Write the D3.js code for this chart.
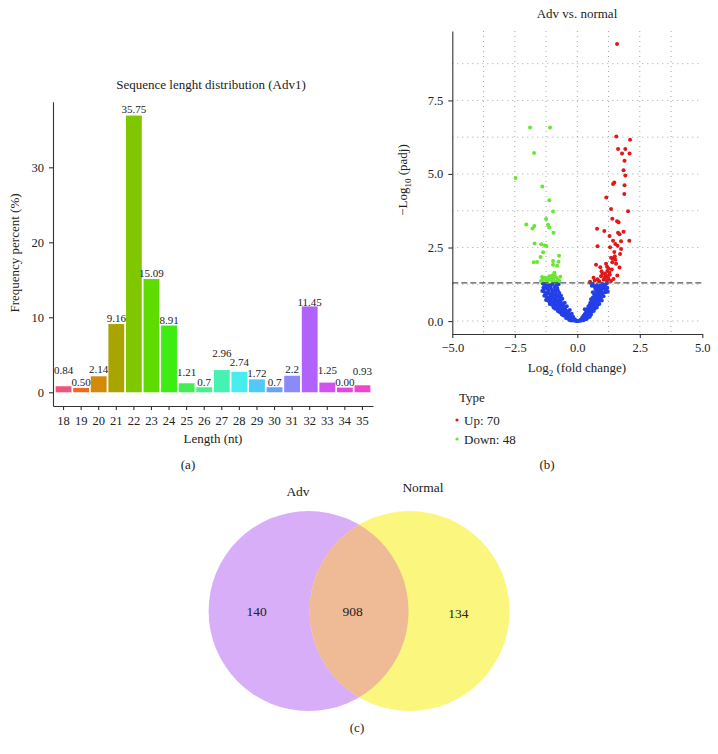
<!DOCTYPE html>
<html><head><meta charset="utf-8">
<script src="https://cdn.jsdelivr.net/npm/d3@7"></script>
<style>
body{margin:0;background:#fff;}
svg text{font-family:"Liberation Serif","Times New Roman",serif;fill:#222;}
</style></head>
<body><svg id="c" width="718" height="754"></svg>
<script>
// ---------- Panel (a) data ----------
const lengths = ["18","19","20","21","22","23","24","25","26","27","28","29","30","31","32","33","34","35"];
const freq = [0.8,0.58,2.13,9.1,36.9,15.1,8.9,1.2,0.67,2.96,2.74,1.72,0.67,2.2,11.45,1.29,0.62,0.93];
const freqLabels = ["0.84","0.50","2.14","9.16","35.75","15.09","8.91","1.21","0.7","2.96","2.74","1.72","0.7","2.2","11.45","1.25","0.00","0.93"];
const freqLabelAt = [2.97,1.33,3.1,9.95,37.7,15.95,9.64,2.67,1.41,5.2,4.0,2.61,1.41,3.07,12.08,2.97,1.37,2.84];
const barColors = ["#F2527A","#EC6A22","#D28A08","#A9A400","#7FC800","#5EDC00","#3CEC12","#42EE52","#46F08C","#46F2B2","#48EEEE","#52C8F6","#6CA2F4","#8C8AF6","#B062FA","#D252F0","#E646E0","#F044CA"];
const yTicksA = [0,10,20,30];

// ---------- Panel (b) data ----------
const upPoints = [[1.59,9.42],[1.56,6.27],[2.11,6.16],[1.63,5.85],[1.92,5.85],[1.79,5.70],[2.09,5.70],[1.89,5.45],[1.85,5.13],[1.92,4.95],[1.48,4.71],[1.43,4.66],[1.89,4.62],[1.88,4.32],[1.16,4.20],[2.03,3.73],[1.35,3.81],[1.40,3.48],[1.59,3.39],[1.65,3.36],[0.79,3.14],[1.08,3.06],[1.29,2.89],[1.63,3.00],[1.69,2.95],[1.85,3.04],[1.43,2.73],[1.75,2.71],[2.08,2.73],[1.61,2.56],[0.81,2.54],[1.31,2.51],[1.71,2.28],[1.50,2.20],[1.42,2.12],[1.52,2.08],[0.75,1.91],[0.92,1.83],[1.19,1.85],[1.25,1.79],[1.69,1.82],[0.97,1.69],[0.65,1.47],[0.81,1.42],[1.10,1.62],[1.15,1.55],[1.10,1.48],[1.25,1.43],[1.30,1.57],[1.45,1.43],[0.51,1.34],[1.40,2.00],[1.35,2.15],[1.20,1.70],[1.05,1.40],[0.95,1.52],[1.18,1.38],[1.38,1.75],[1.60,1.55],[1.28,1.65],[0.88,1.35],[1.00,1.60],[1.22,1.50],[1.55,1.95],[1.48,2.35],[0.70,1.38],[1.35,1.36],[1.15,1.95],[1.75,2.45],[1.52,2.62]];
const downPoints = [[-1.89,6.58],[-1.09,6.58],[-1.73,5.71],[-2.47,4.86],[-1.40,4.57],[-1.12,4.11],[-0.97,3.72],[-1.25,3.47],[-2.04,3.28],[-1.72,3.23],[-1.79,3.15],[-1.17,3.27],[-1.12,3.18],[-0.95,3.00],[-1.71,2.64],[-1.44,2.61],[-1.30,2.57],[-1.24,2.55],[-1.37,2.34],[-1.47,2.18],[-0.73,2.22],[-1.74,2.00],[-1.61,2.01],[-0.97,2.04],[-0.97,1.91],[-0.75,2.02],[-0.81,1.88],[-0.92,1.64],[-0.91,1.57],[-1.41,1.50],[-1.35,1.44],[-1.21,1.45],[-0.68,1.51],[-1.16,1.40],[-1.03,1.37],[-0.89,1.34],[-1.38,1.40],[-1.30,1.47],[-1.25,1.38],[-0.95,1.45],[-1.08,1.48],[-0.78,1.40],[-1.45,1.36],[-1.20,1.33],[-1.00,1.55],[-0.85,1.48],[-0.72,1.36],[-1.12,1.52]];
const nsPoints = [[-1.38,1.28],[-1.3,1.25],[-1.22,1.27],[-1.12,1.22],[-0.98,1.26],[-0.85,1.2],[-0.75,1.25],[-1.35,1.15],[-1.25,1.12],[-1.18,1.08],[-1.05,1.1],[-0.92,1.05],[-0.8,1.12],[-1.4,1.02],[-1.3,0.98],[-1.2,0.95],[-1.1,0.92],[-1.0,0.97],[-0.88,0.9],[-0.72,0.95],[-1.32,0.86],[-1.22,0.82],[-1.12,0.8],[-1.02,0.84],[-0.95,0.78],[-0.85,0.8],[-0.7,0.82],[-0.6,0.76],[-1.25,0.72],[-1.15,0.68],[-1.05,0.7],[-0.98,0.65],[-0.9,0.68],[-0.8,0.64],[-0.7,0.66],[-0.58,0.6],[-1.1,0.58],[-1.0,0.55],[-0.92,0.57],[-0.85,0.52],[-0.75,0.55],[-0.65,0.5],[-0.55,0.52],[-0.48,0.45],[-0.95,0.46],[-0.88,0.42],[-0.8,0.44],[-0.72,0.4],[-0.64,0.42],[-0.56,0.38],[-0.45,0.36],[-0.38,0.32],[-0.78,0.34],[-0.7,0.3],[-0.62,0.31],[-0.55,0.27],[-0.48,0.28],[-0.4,0.24],[-0.33,0.22],[-0.62,0.22],[-0.55,0.19],[-0.47,0.18],[-0.4,0.15],[-0.32,0.14],[-0.25,0.12],[-0.45,0.1],[-0.36,0.08],[-0.28,0.07],[-0.2,0.06],[-0.14,0.04],[-0.3,0.03],[-0.22,0.02],[-0.12,0.015],[-0.06,0.01],[-0.5,0.62],[-0.42,0.5],[-0.3,0.38],[-0.22,0.25],[-0.17,0.15],
[-1.28,1.2],[-1.15,1.18],[-1.05,1.22],[-0.9,1.15],[-0.82,1.28],[-1.35,1.08],[-1.15,1.02],[-1.0,1.04],[-0.85,1.0],[-0.78,1.05],[-1.25,0.9],[-1.05,0.88],[-0.95,0.9],[-0.8,0.88],[-0.65,0.86],[-1.18,0.75],[-1.08,0.76],[-0.88,0.74],[-0.75,0.72],[-0.65,0.72],[-1.05,0.62],[-0.85,0.62],[-0.72,0.6],[-0.62,0.58],[-0.9,0.5],[-0.7,0.48],[-0.58,0.46],[-0.5,0.4],[-0.68,0.37],[-0.6,0.35],[-0.52,0.33],[-0.42,0.3],[-0.35,0.26],[-0.52,0.24],[-0.45,0.22],[-0.38,0.2],[-0.3,0.18],[-0.28,0.12],[-0.18,0.09],[-0.1,0.06],[-0.35,0.12],[-0.16,0.03],[-0.08,0.03],
[1.18,1.28],[1.1,1.24],[1.0,1.26],[0.9,1.2],[0.78,1.22],[0.62,1.27],[0.52,1.3],[1.2,1.12],[1.08,1.1],[0.96,1.08],[0.85,1.05],[0.72,1.1],[1.12,0.98],[1.02,0.95],[0.92,0.92],[0.8,0.96],[0.68,0.9],[1.05,0.84],[0.95,0.8],[0.85,0.82],[0.75,0.78],[0.62,0.8],[0.98,0.7],[0.88,0.68],[0.78,0.66],[0.68,0.7],[0.58,0.64],[0.88,0.58],[0.8,0.55],[0.7,0.56],[0.6,0.52],[0.5,0.55],[0.78,0.46],[0.7,0.43],[0.6,0.44],[0.52,0.4],[0.42,0.42],[0.66,0.34],[0.58,0.32],[0.5,0.3],[0.42,0.28],[0.35,0.3],[0.55,0.22],[0.47,0.2],[0.4,0.18],[0.32,0.16],[0.25,0.18],[0.42,0.11],[0.34,0.1],[0.26,0.08],[0.18,0.07],[0.12,0.04],[0.25,0.03],[0.16,0.02],[0.08,0.01],[0.3,0.24],[0.2,0.12],[0.45,0.5],[0.38,0.36],[1.22,1.0],[0.3,0.4],[0.02,0.005],[-0.02,0.005],
[1.12,1.18],[1.02,1.15],[0.92,1.12],[0.82,1.14],[0.68,1.18],[0.58,1.2],[1.15,1.05],[0.98,1.0],[0.88,0.98],[0.75,1.02],[0.62,0.98],[1.0,0.88],[0.9,0.86],[0.8,0.86],[0.7,0.84],[0.55,0.74],[0.92,0.74],[0.82,0.72],[0.72,0.62],[0.65,0.6],[0.52,0.62],[0.75,0.5],[0.65,0.48],[0.55,0.46],[0.48,0.38],[0.62,0.38],[0.45,0.26],[0.38,0.22],[0.5,0.15],[0.3,0.12],[0.22,0.05],[0.12,0.02],[0.35,0.06]];
const xTicksB = [-5,-2.5,0,2.5,5];
const yTicksB = [0,2.5,5,7.5];
const gridX = [-3.75,-2.5,-1.25,0,1.25,2.5,3.75];
const gridY = [0,1.25,2.5,3.75,5,6.25,7.5,8.75];
const threshold = 1.3;
const legendItems = ["Up: 70","Down: 48"];

// ---------- Panel (c) data ----------
const vennSets = ["Adv","Normal"];
const vennCounts = [140,908,134]; // Adv only, both, Normal only
const vennColors = ["#D8AEF8","#FBF67E","#EFBB96"];

const svg = d3.select("#c");
const axisCol = "#333";

function styleAxis(g){
  g.selectAll(".domain").attr("stroke",axisCol).attr("stroke-width",1.1);
  g.selectAll(".tick line").attr("stroke",axisCol).attr("stroke-width",1.1);
  g.selectAll(".tick text").attr("font-family","Liberation Serif").attr("fill","#222");
}

// ======== Panel (a) ========
const xA = d3.scaleBand().domain(lengths).range([53,373]).paddingInner(0.1).paddingOuter(0.15);
const yA = d3.scaleLinear().domain([-1.83,38.75]).range([406,101.7]);
const gA = svg.append("g");
gA.append("text").attr("x",211).attr("y",89).attr("text-anchor","middle").attr("font-size",13).text("Sequence lenght distribution (Adv1)");
gA.selectAll("rect.bar").data(lengths).join("rect").attr("class","bar")
  .attr("x",d=>xA(d)).attr("width",xA.bandwidth())
  .attr("y",(d,i)=>yA(freq[i])).attr("height",(d,i)=>yA(0)-yA(freq[i]))
  .attr("fill",(d,i)=>barColors[i]);
gA.selectAll("text.lab").data(lengths).join("text").attr("class","lab")
  .attr("x",d=>xA(d)+xA.bandwidth()/2).attr("y",(d,i)=>yA(freqLabelAt[i]))
  .attr("dy","0.35em").attr("text-anchor","middle").attr("font-size",11)
  .text((d,i)=>freqLabels[i]);
const axAx = gA.append("g").attr("transform","translate(0,406)")
  .call(d3.axisBottom(xA).tickSize(4).tickPadding(6).tickSizeOuter(0));
axAx.selectAll(".tick text").attr("font-size",12.5);
styleAxis(axAx);
const axAy = gA.append("g").attr("transform","translate(53,0)")
  .call(d3.axisLeft(yA).tickValues(yTicksA).tickSize(4).tickPadding(5).tickSizeOuter(0));
axAy.selectAll(".tick text").attr("font-size",12.5);
styleAxis(axAy);
gA.append("text").attr("x",213).attr("y",443).attr("text-anchor","middle").attr("font-size",13).text("Length (nt)");
gA.append("text").attr("transform","translate(19,253) rotate(-90)").attr("text-anchor","middle").attr("font-size",13).text("Frequency percent (%)");
gA.append("text").attr("x",188).attr("y",469).attr("text-anchor","middle").attr("font-size",13).text("(a)");

// ======== Panel (b) ========
const xB = d3.scaleLinear().domain([-5,5]).range([452.3,702.3]);
const yB = d3.scaleLinear().domain([-0.44,9.86]).range([334,31]);
const gB = svg.append("g");
gB.append("text").attr("x",577).attr("y",17.5).attr("text-anchor","middle").attr("font-size",13).text("Adv vs. normal");
gB.selectAll("line.gx").data(gridX).join("line").attr("class","gx")
  .attr("x1",d=>xB(d)).attr("x2",d=>xB(d)).attr("y1",31).attr("y2",334)
  .attr("stroke","#9a9a9a").attr("stroke-width",0.9).attr("stroke-dasharray","1,4");
gB.selectAll("line.gy").data(gridY).join("line").attr("class","gy")
  .attr("x1",452.3).attr("x2",702.3).attr("y1",d=>yB(d)).attr("y2",d=>yB(d))
  .attr("stroke","#9a9a9a").attr("stroke-width",0.9).attr("stroke-dasharray","1,4");
const r = 2;
gB.selectAll("circle.ns").data(nsPoints).join("circle").attr("class","ns")
  .attr("cx",d=>xB(d[0])).attr("cy",d=>yB(d[1])).attr("r",r).attr("fill","#2340E8");
gB.selectAll("circle.dn").data(downPoints).join("circle").attr("class","dn")
  .attr("cx",d=>xB(d[0])).attr("cy",d=>yB(d[1])).attr("r",r).attr("fill","#66E830");
gB.selectAll("circle.up").data(upPoints).join("circle").attr("class","up")
  .attr("cx",d=>xB(d[0])).attr("cy",d=>yB(d[1])).attr("r",r).attr("fill","#E01818");
gB.append("line").attr("x1",452.3).attr("x2",702.3).attr("y1",yB(threshold)).attr("y2",yB(threshold))
  .attr("stroke","#555").attr("stroke-width",1.3).attr("stroke-dasharray","6,3");
const axBx = gB.append("g").attr("transform","translate(0,334)")
  .call(d3.axisBottom(xB).tickValues(xTicksB).tickFormat(d3.format(".1f")).tickSize(4).tickPadding(5).tickSizeOuter(0));
axBx.selectAll(".tick text").attr("font-size",12.5);
styleAxis(axBx);
const axBy = gB.append("g").attr("transform","translate(452.3,0)")
  .call(d3.axisLeft(yB).tickValues(yTicksB).tickFormat(d3.format(".1f")).tickSize(4).tickPadding(5).tickSizeOuter(0));
axBy.selectAll(".tick text").attr("font-size",12.5);
styleAxis(axBy);
const xl = gB.append("text").attr("x",577).attr("y",372).attr("text-anchor","middle").attr("font-size",13);
xl.append("tspan").text("Log");
xl.append("tspan").attr("dy",4).attr("font-size",9).text("2");
xl.append("tspan").attr("dy",-4).text(" (fold change)");
const yl = gB.append("text").attr("transform","translate(407,180) rotate(-90)").attr("text-anchor","middle").attr("font-size",13);
yl.append("tspan").text("\u2212Log");
yl.append("tspan").attr("dy",4).attr("font-size",9).text("10");
yl.append("tspan").attr("dy",-4).text(" (padj)");
gB.append("text").attr("x",459).attr("y",402).attr("font-size",13).text("Type");
const legColors = ["#E01818","#66E830"];
const leg = gB.selectAll("g.leg").data(legendItems).join("g").attr("class","leg")
  .attr("transform",(d,i)=>`translate(457,${420+i*19})`);
leg.append("circle").attr("r",1.6).attr("fill",(d,i)=>legColors[i]);
leg.append("text").attr("x",7).attr("dy","0.35em").attr("font-size",13).text(d=>d);
gB.append("text").attr("x",547).attr("y",469).attr("text-anchor","middle").attr("font-size",13).text("(b)");

// ======== Panel (c) ========
const xC = d3.scaleLinear().domain([0,1]).range([308.6,409.6]);
const rC = 100, cyC = 611;
const gC = svg.append("g");
const defs = svg.append("defs");
defs.append("clipPath").attr("id","clipL").append("circle").attr("cx",xC(0)).attr("cy",cyC).attr("r",rC);
gC.selectAll("circle.set").data(vennSets).join("circle").attr("class","set")
  .attr("cx",(d,i)=>xC(i)).attr("cy",cyC).attr("r",rC).attr("fill",(d,i)=>vennColors[i]);
gC.append("circle").attr("cx",xC(1)).attr("cy",cyC).attr("r",rC).attr("clip-path","url(#clipL)").attr("fill",vennColors[2]);
gC.append("text").attr("x",298).attr("y",496).attr("text-anchor","middle").attr("font-size",13.5).text(vennSets[0]);
gC.append("text").attr("x",423).attr("y",492).attr("text-anchor","middle").attr("font-size",13.5).text(vennSets[1]);
const cntX = [256.7,352.7,458.3], cntY=[611,611,613.3];
gC.selectAll("text.cnt").data(vennCounts).join("text").attr("class","cnt")
  .attr("x",(d,i)=>cntX[i]).attr("y",(d,i)=>cntY[i]).attr("dy","0.35em")
  .attr("text-anchor","middle").attr("font-size",13.5).text(d=>d);
gC.append("text").attr("x",357).attr("y",732).attr("text-anchor","middle").attr("font-size",13).text("(c)");
</script></body></html>
